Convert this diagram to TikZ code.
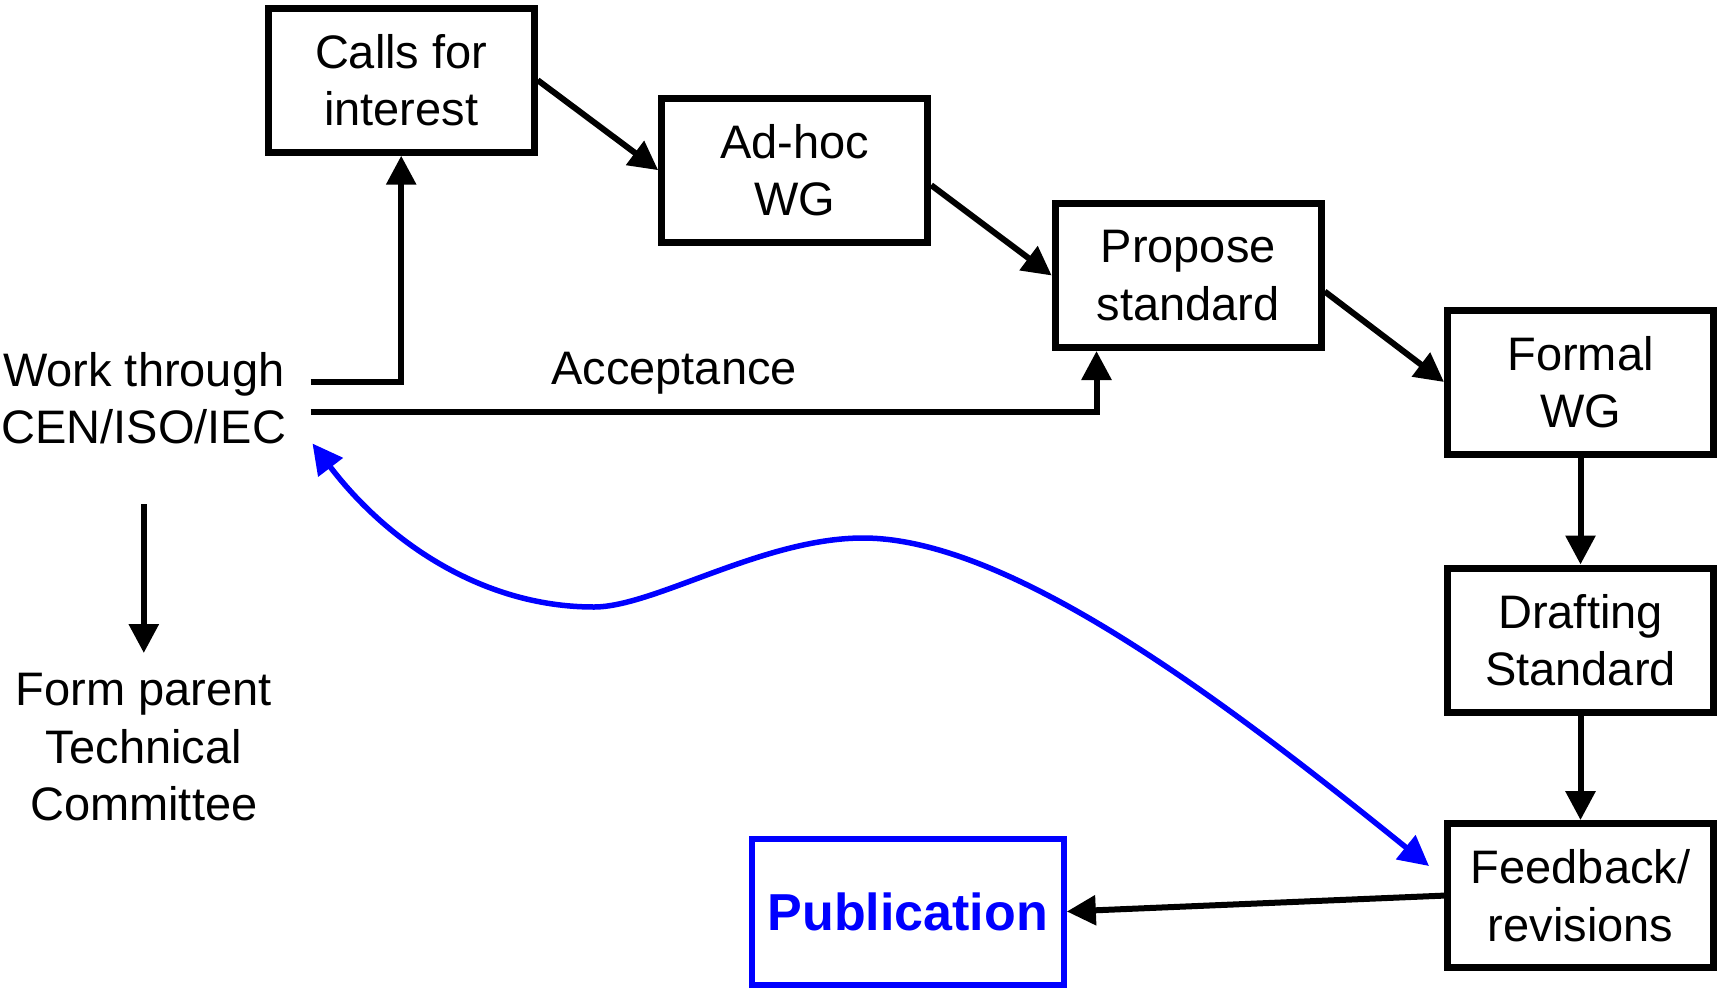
\documentclass[tikz,border=0pt]{standalone}
\usepackage{fontspec}
\setmainfont{Liberation Sans}
\usetikzlibrary{arrows.meta}
\begin{document}
\begin{tikzpicture}[x=1pt,y=-1pt,
  every node/.style={font=\fontsize{47}{57.5}\selectfont, align=center, inner sep=0pt},
  stage/.style={draw, line width=7pt, minimum width=266pt, minimum height=144pt},
  pubbox/.style={draw=blue, text=blue, line width=6pt, minimum width=312pt,
                 minimum height=146pt, font=\fontsize{52}{60}\selectfont\bfseries},
  conn/.style={line width=6pt, -{Triangle[length=29pt,width=29pt]}},
  backloop/.style={draw=blue, line width=5.5pt,
                   {Triangle[length=30pt,width=30pt]}-{Triangle[length=30pt,width=30pt]}}
]
\useasboundingbox (0,0) rectangle (1721,991);

% process stages
\node[stage] (calls)    at (401.2,80.2)   {Calls for\\interest};
\node[stage] (adhoc)    at (794.7,170.2)  {Ad-hoc\\WG};
\node[stage] (propose)  at (1188.2,275.5) {Propose\\standard};
\node[stage] (formal)   at (1580.5,382)   {Formal\\WG};
\node[stage] (drafting) at (1580.5,640)   {Drafting\\Standard};
\node[stage] (feedback) at (1580.5,895.6) {Feedback/\\revisions};
\node[pubbox] (pub)     at (907.8,911.5)  {Publication};

% free text
\node (work) at (143.8,398.4) {Work through\\CEN/ISO/IEC};
\node (form) at (143.8,747.5) {Form parent\\Technical\\Committee};
\node (accept) at (674,373) {Acceptance};

% connector end points beside the free text
\coordinate (w1) at (310.6,382);
\coordinate (w2) at (310.6,411.6);
\coordinate (w3) at (143.8,504);
\coordinate (f3) at (143.8,653);
\coordinate (loopstart) at (312.5,443.5);
\coordinate (loopend) at (1429,866);

% connectors
\draw[conn] (calls.east) -- (adhoc.west);
\draw[conn] ([yshift=-15pt]adhoc.east) -- (propose.west);
\draw[conn] ([yshift=-16pt]propose.east) -- (formal.west);
\draw[conn] (formal.south) -- (drafting.north);
\draw[conn] (drafting.south) -- (feedback.north);
\draw[conn] (feedback.west) -- (pub.east);
\draw[conn] (w1) -| (calls.south);
\draw[conn] (w2) -| ([xshift=-91.7pt]propose.south);
\draw[conn] (w3) -- (f3);

% feedback loop back to the standards bodies
\draw[backloop] (loopstart)
  .. controls (385,539) and (480,607) .. (594,607)
  .. controls (654,607) and (763,538) .. (863,538)
  .. controls (1013,538) and (1234,708.5) .. (loopend);
\end{tikzpicture}
\end{document}
